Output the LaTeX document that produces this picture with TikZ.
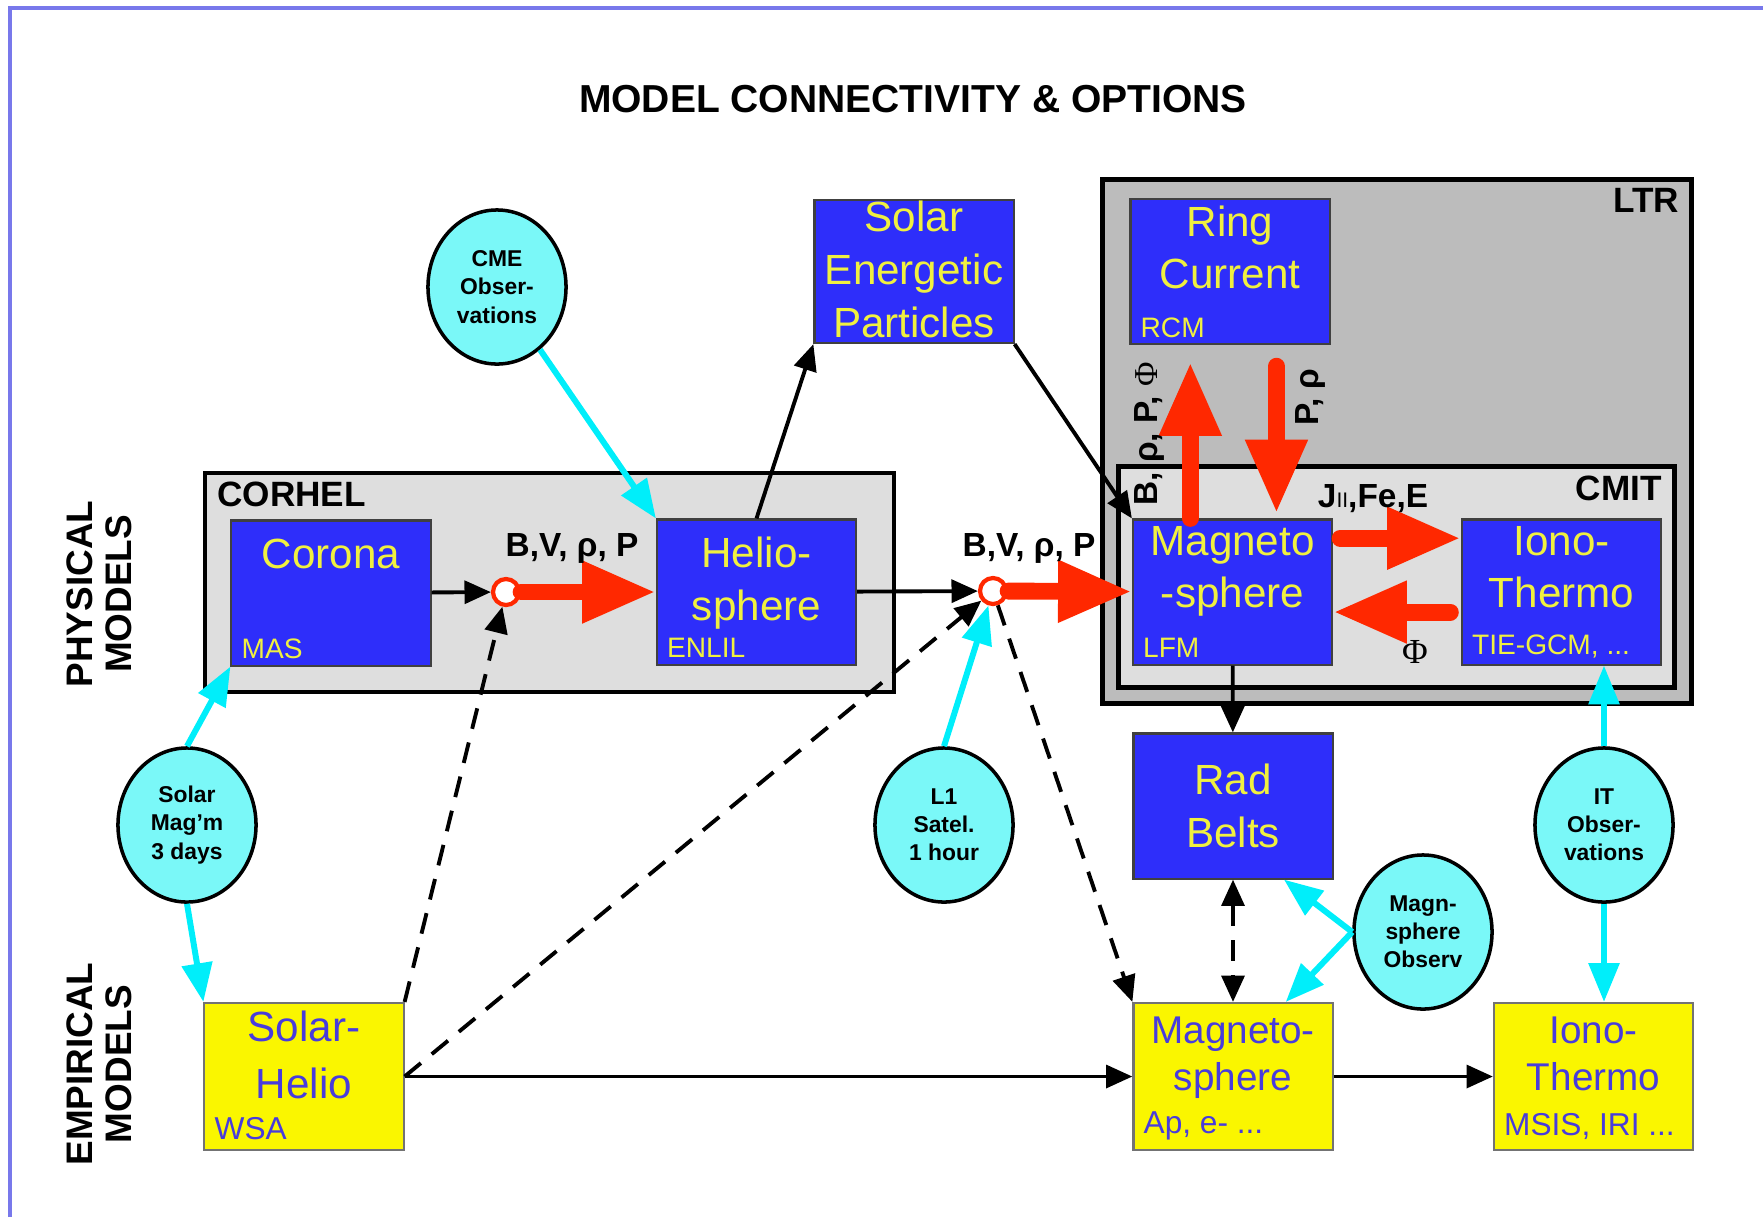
\documentclass[tikz,border=0pt]{standalone}
\usepackage{fontspec}
\setmainfont{Liberation Sans}
\newfontfamily\greekserif{Liberation Serif}
\usetikzlibrary{arrows.meta,shapes.geometric}

\definecolor{physblue}{RGB}{46,46,250}
\definecolor{phystext}{RGB}{240,240,64}
\definecolor{empyellow}{RGB}{250,246,0}
\definecolor{emptext}{RGB}{72,60,220}
\definecolor{obsfill}{RGB}{122,248,248}
\definecolor{feedcyan}{RGB}{0,238,250}
\definecolor{couplered}{RGB}{255,40,0}
\definecolor{ltrgray}{RGB}{188,188,188}
\definecolor{boxgray}{RGB}{222,222,222}
\definecolor{framebl}{RGB}{120,120,235}

\begin{document}
\begin{tikzpicture}[x=0.01cm, y=-0.01cm, >={Triangle[length=7.5pt,width=6.5pt]}]
    \tikzstyle{group} = [rectangle, draw=black, line width=1.4pt, inner sep=0pt]
    \tikzstyle{glabel} = [font=\fontsize{10}{12}\selectfont\bfseries, inner xsep=4pt, inner ysep=3pt]
    \tikzstyle{phys} = [rectangle, draw=black!75, line width=0.6pt, fill=physblue, minimum width=1.99cm, minimum height=1.45cm, inner sep=0pt]
    \tikzstyle{emp} = [rectangle, draw=black!55, line width=0.6pt, fill=empyellow, minimum width=1.99cm, minimum height=1.47cm, inner sep=0pt]
    \tikzstyle{ptitle} = [anchor=north, inner sep=2pt, align=center, text=phystext, font=\fontsize{12}{15}\selectfont]
    \tikzstyle{psub} = [anchor=south west, inner xsep=3pt, inner ysep=2pt, text=phystext, font=\fontsize{8}{9}\selectfont]
    \tikzstyle{etitle} = [anchor=north, inner sep=4pt, align=center, text=emptext, font=\fontsize{11}{13.5}\selectfont]
    \tikzstyle{esub} = [anchor=south west, inner xsep=3pt, inner ysep=3pt, text=emptext, font=\fontsize{9}{10}\selectfont]
    \tikzstyle{obs} = [ellipse, draw=black, line width=1pt, fill=obsfill, minimum width=1.38cm, minimum height=1.54cm, inner sep=0pt, align=center, font=\fontsize{6.5}{8}\selectfont\bfseries]
    \tikzstyle{junction} = [circle, draw=couplered, line width=1.2pt, fill=white, minimum size=0.26cm, inner sep=0pt]
    \tikzstyle{flow} = [font=\fontsize{9.5}{11}\selectfont\bfseries, inner sep=1pt]
    \tikzstyle{side} = [font=\fontsize{10.5}{11}\selectfont\bfseries, align=center, rotate=90]
    \tikzstyle{link} = [draw, line width=1.1pt, ->]
    \tikzstyle{maybe} = [link, dash pattern=on 6pt off 4pt]
    \tikzstyle{feed} = [draw=feedcyan, line width=1.7pt, -{Triangle[length=11pt,width=8.5pt]}]
    \tikzstyle{couple} = [draw=couplered, line width=4.8pt, line cap=round, -{Triangle[length=21pt,width=16.5pt]}]

    \useasboundingbox (0,0) rectangle (1763,1217);
    \draw[framebl, line width=1pt] (10,1217) -- (10,8) -- (1763,8);

    \node[font=\fontsize{11.1}{13}\selectfont\bfseries] (title) at (913,99) {MODEL CONNECTIVITY \& OPTIONS};
    \node[side] (physical) at (99,594) {PHYSICAL\\MODELS};
    \node[side] (empirical) at (99,1064) {EMPIRICAL\\MODELS};

    \node[group, fill=ltrgray, minimum width=5.88cm, minimum height=5.23cm,
          label={[glabel, anchor=north east]north east:LTR}] (ltr) at (1397,441.5) {};
    \node[group, fill=boxgray, minimum width=5.55cm, minimum height=2.20cm,
          label={[glabel, anchor=north east]north east:CMIT}] (cmit) at (1396.5,577) {};
    \node[group, fill=boxgray, line width=1.3pt, minimum width=6.89cm, minimum height=2.19cm,
          label={[glabel, anchor=north west]north west:CORHEL}] (corhel) at (549.5,582.5) {};

    \node[phys, label={[ptitle, yshift=-3.5pt]north:Corona}, label={[psub]south west:MAS}] (corona) at (331,593) {};
    \node[phys, label={[ptitle, yshift=-3pt]north:Helio-\\sphere}, label={[psub]south west:ENLIL}] (helio) at (756.5,592) {};
    \node[phys, minimum height=1.43cm, label={[ptitle, inner sep=0.5pt]north:Solar\\Energetic\\Particles}] (sep) at (914,271.5) {};
    \node[phys, label={[ptitle]north:Ring\\Current}, label={[psub]south west:RCM}] (ring) at (1230,271.5) {};
    \node[phys, label={[ptitle]north:Magneto\\-sphere}, label={[psub]south west:LFM}] (mag) at (1232.5,592) {};
    \node[phys, label={[ptitle]north:Iono-\\Thermo}, label={[psub]south west:{TIE-GCM, ...}}] (iono) at (1561.5,592) {};
    \node[phys, text=phystext, align=center, font=\fontsize{12}{15}\selectfont] (rad) at (1233,806) {Rad\\Belts};

    \node[emp, label={[etitle, inner sep=2.5pt, font=\fontsize{12}{16}\selectfont]north:Solar-\\Helio}, label={[esub]south west:WSA}] (solhel) at (304,1076.5) {};
    \node[emp, label={[etitle]north:Magneto-\\sphere}, label={[esub]south west:{Ap, e- ...}}] (magY) at (1233,1076.5) {};
    \node[emp, label={[etitle]north:Iono-\\Thermo}, label={[esub]south west:{MSIS, IRI ...}}] (ionoY) at (1593.5,1076.5) {};

    \node[obs] (cme) at (497,287) {CME\\Obser-\\vations};
    \node[obs] (smag) at (187,825) {Solar\\Mag'm\\3 days};
    \node[obs] (l1) at (944,825) {L1\\Satel.\\1 hour};
    \node[obs] (mobs) at (1423,932) {Magn-\\sphere\\Observ};
    \node[obs] (itobs) at (1604,825) {IT\\Obser-\\vations};

    \node[junction] (j1) at (506,592) {};
    \node[junction] (j2) at (993,591) {};

    \draw[link] (corona) -- (j1);
    \draw[couple] (j1) -- (helio);
    \draw[link] (helio) -- (j2);
    \draw[couple] (j2) -- (mag);
    \draw[link] (helio.north) -- (sep.south west);
    \draw[link] (sep.south east) -- (mag.north west);
    \draw[link] (mag) -- (rad);
    \draw[maybe, <->] (rad) -- (magY);
    \draw[maybe] (solhel.north east) -- (j1);
    \draw[maybe] (solhel.east) -- (j2);
    \draw[maybe] (j2) -- (magY.north west);
    \draw[link] (solhel) -- (magY);
    \draw[link] (magY) -- (ionoY);

    \draw[couple, shorten >=4.8pt] ([xshift=-12pt]mag.north) -- ([xshift=-12pt]mag.north |- ring.south);
    \draw[couple, shorten <=6pt, shorten >=1.4pt] ([xshift=12.5pt]mag.north |- ring.south) -- ([xshift=12.5pt]mag.north);
    \draw[couple, shorten <=2pt] ([yshift=15.3pt]mag.east) -- ([yshift=15.3pt]iono.west);
    \draw[couple, shorten <=3pt] ([yshift=-5.7pt]iono.west) -- ([yshift=-5.7pt]mag.east);

    \draw[feed] (cme) -- (helio.north west);
    \draw[feed] (smag.north) -- (corona.south west);
    \draw[feed] (smag.south) -- (solhel.north west);
    \draw[feed] (l1.north) -- (j2);
    \draw[feed] (mobs.west) -- ([xshift=14.5pt]rad.south);
    \draw[feed] (mobs.west) -- ([xshift=15pt]magY.north);
    \draw[feed] (itobs.north) -- (itobs.north |- iono.south);
    \draw[feed] (itobs.south) -- (itobs.south |- ionoY.north);

    \node[flow] (bvp1) at (572,548) {B,V, ρ, P};
    \node[flow] (bvp2) at (1029,548) {B,V, ρ, P};
    \node[flow, rotate=90] (torcm) at (1149,434) {B, ρ, P, {\mdseries\greekserif Φ}};
    \node[flow, rotate=90] (fromrcm) at (1310,397) {P, ρ};
    \node[flow] (toit) at (1373,499) {J{\mdseries\fontsize{6}{6}\selectfont II},Fe,E};
    \node[font=\fontsize{10}{10}\selectfont\greekserif] (fromit) at (1415,652) {Φ};
\end{tikzpicture}
\end{document}
